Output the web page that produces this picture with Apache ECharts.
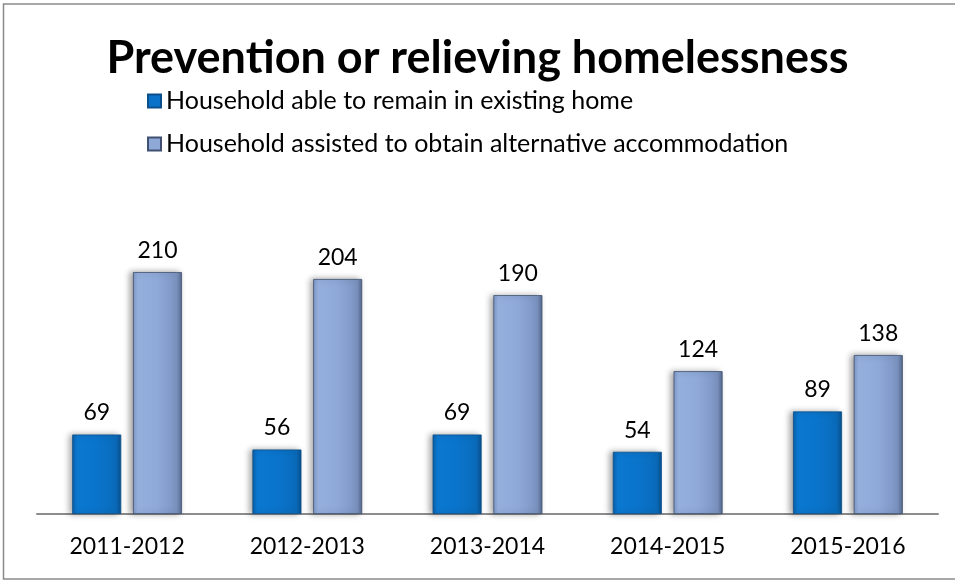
<!DOCTYPE html>
<html>
<head>
<meta charset="utf-8">
<script src="https://cdn.jsdelivr.net/npm/echarts@6/dist/echarts.min.js"></script>
<style>html,body{margin:0;padding:0;background:#fff}#c{width:955px;height:581px}</style>
</head>
<body>
<div id="c"></div>
<script>
var titleText = 'Prevention or relieving homelessness';
var categories = ['2011-2012', '2012-2013', '2013-2014', '2014-2015', '2015-2016'];
var seriesNames = ['Household able to remain in existing home', 'Household assisted to obtain alternative accommodation'];
var remainValues = [69, 56, 69, 54, 89];
var assistedValues = [210, 204, 190, 124, 138];

var FONT = 'Lato, "Open Sans", sans-serif';
var blueGrad = new echarts.graphic.LinearGradient(0, 0, 1, 0, [
  {offset: 0, color: '#0a5fa8'}, {offset: 0.1, color: '#0b78d0'},
  {offset: 0.5, color: '#0a74cb'}, {offset: 0.9, color: '#0a6cbc'},
  {offset: 1, color: '#094f8c'}]);
var lightGrad = new echarts.graphic.LinearGradient(0, 0, 1, 0, [
  {offset: 0, color: '#7f98c6'}, {offset: 0.1, color: '#95afdd'},
  {offset: 0.5, color: '#8ea8d8'}, {offset: 0.9, color: '#7c94c2'},
  {offset: 1, color: '#56698c'}]);

var chart = echarts.init(document.getElementById('c'), null, {renderer: 'canvas'});
chart.setOption({
  animation: false,
  backgroundColor: '#fff',
  graphic: [{
    type: 'rect', silent: true, z: -1,
    shape: {x: 3.5, y: 4, width: 970, height: 575},
    style: {fill: 'none', stroke: '#8a8a8a', lineWidth: 1.5}
  }],
  title: {
    text: titleText, left: 'center', top: 31,
    textStyle: {fontFamily: FONT, fontWeight: 'bold', fontSize: 45, color: '#000'}
  },
  legend: {
    orient: 'vertical', left: 142, top: 82, itemGap: 15,
    itemWidth: 13, itemHeight: 13, icon: 'rect',
    textStyle: {fontFamily: FONT, fontSize: 25, color: '#000', lineHeight: 28},
    data: [
      {name: seriesNames[0], itemStyle: {color: '#0a72c8'}},
      {name: seriesNames[1], itemStyle: {color: '#8ea8d8'}}
    ]
  },
  grid: {left: 37, right: 17, top: 226, bottom: 67, containLabel: false},
  xAxis: {
    type: 'category', data: categories,
    axisLine: {lineStyle: {color: '#8c8c8c', width: 2}},
    axisTick: {show: false},
    axisLabel: {fontFamily: FONT, fontSize: 23, color: '#000', margin: 21}
  },
  yAxis: {
    type: 'value', min: 0, max: 250, show: false,
    splitLine: {show: false}
  },
  series: [{
    name: seriesNames[0], type: 'bar', data: remainValues,
    barWidth: 49, barGap: '24%',
    itemStyle: {color: blueGrad, borderColor: '#0a4f8a', borderWidth: 0.8,
      shadowColor: 'rgba(0,0,0,0.35)', shadowBlur: 6, shadowOffsetX: -3},
    label: {show: true, position: 'top', distance: 10,
      fontFamily: FONT, fontSize: 23, color: '#000'}
  }, {
    name: seriesNames[1], type: 'bar', data: assistedValues,
    barWidth: 49,
    itemStyle: {color: lightGrad, borderColor: '#3f5070', borderWidth: 0.8,
      shadowColor: 'rgba(0,0,0,0.35)', shadowBlur: 6, shadowOffsetX: -3},
    label: {show: true, position: 'top', distance: 10,
      fontFamily: FONT, fontSize: 23, color: '#000'}
  }]
});
</script>
</body>
</html>
